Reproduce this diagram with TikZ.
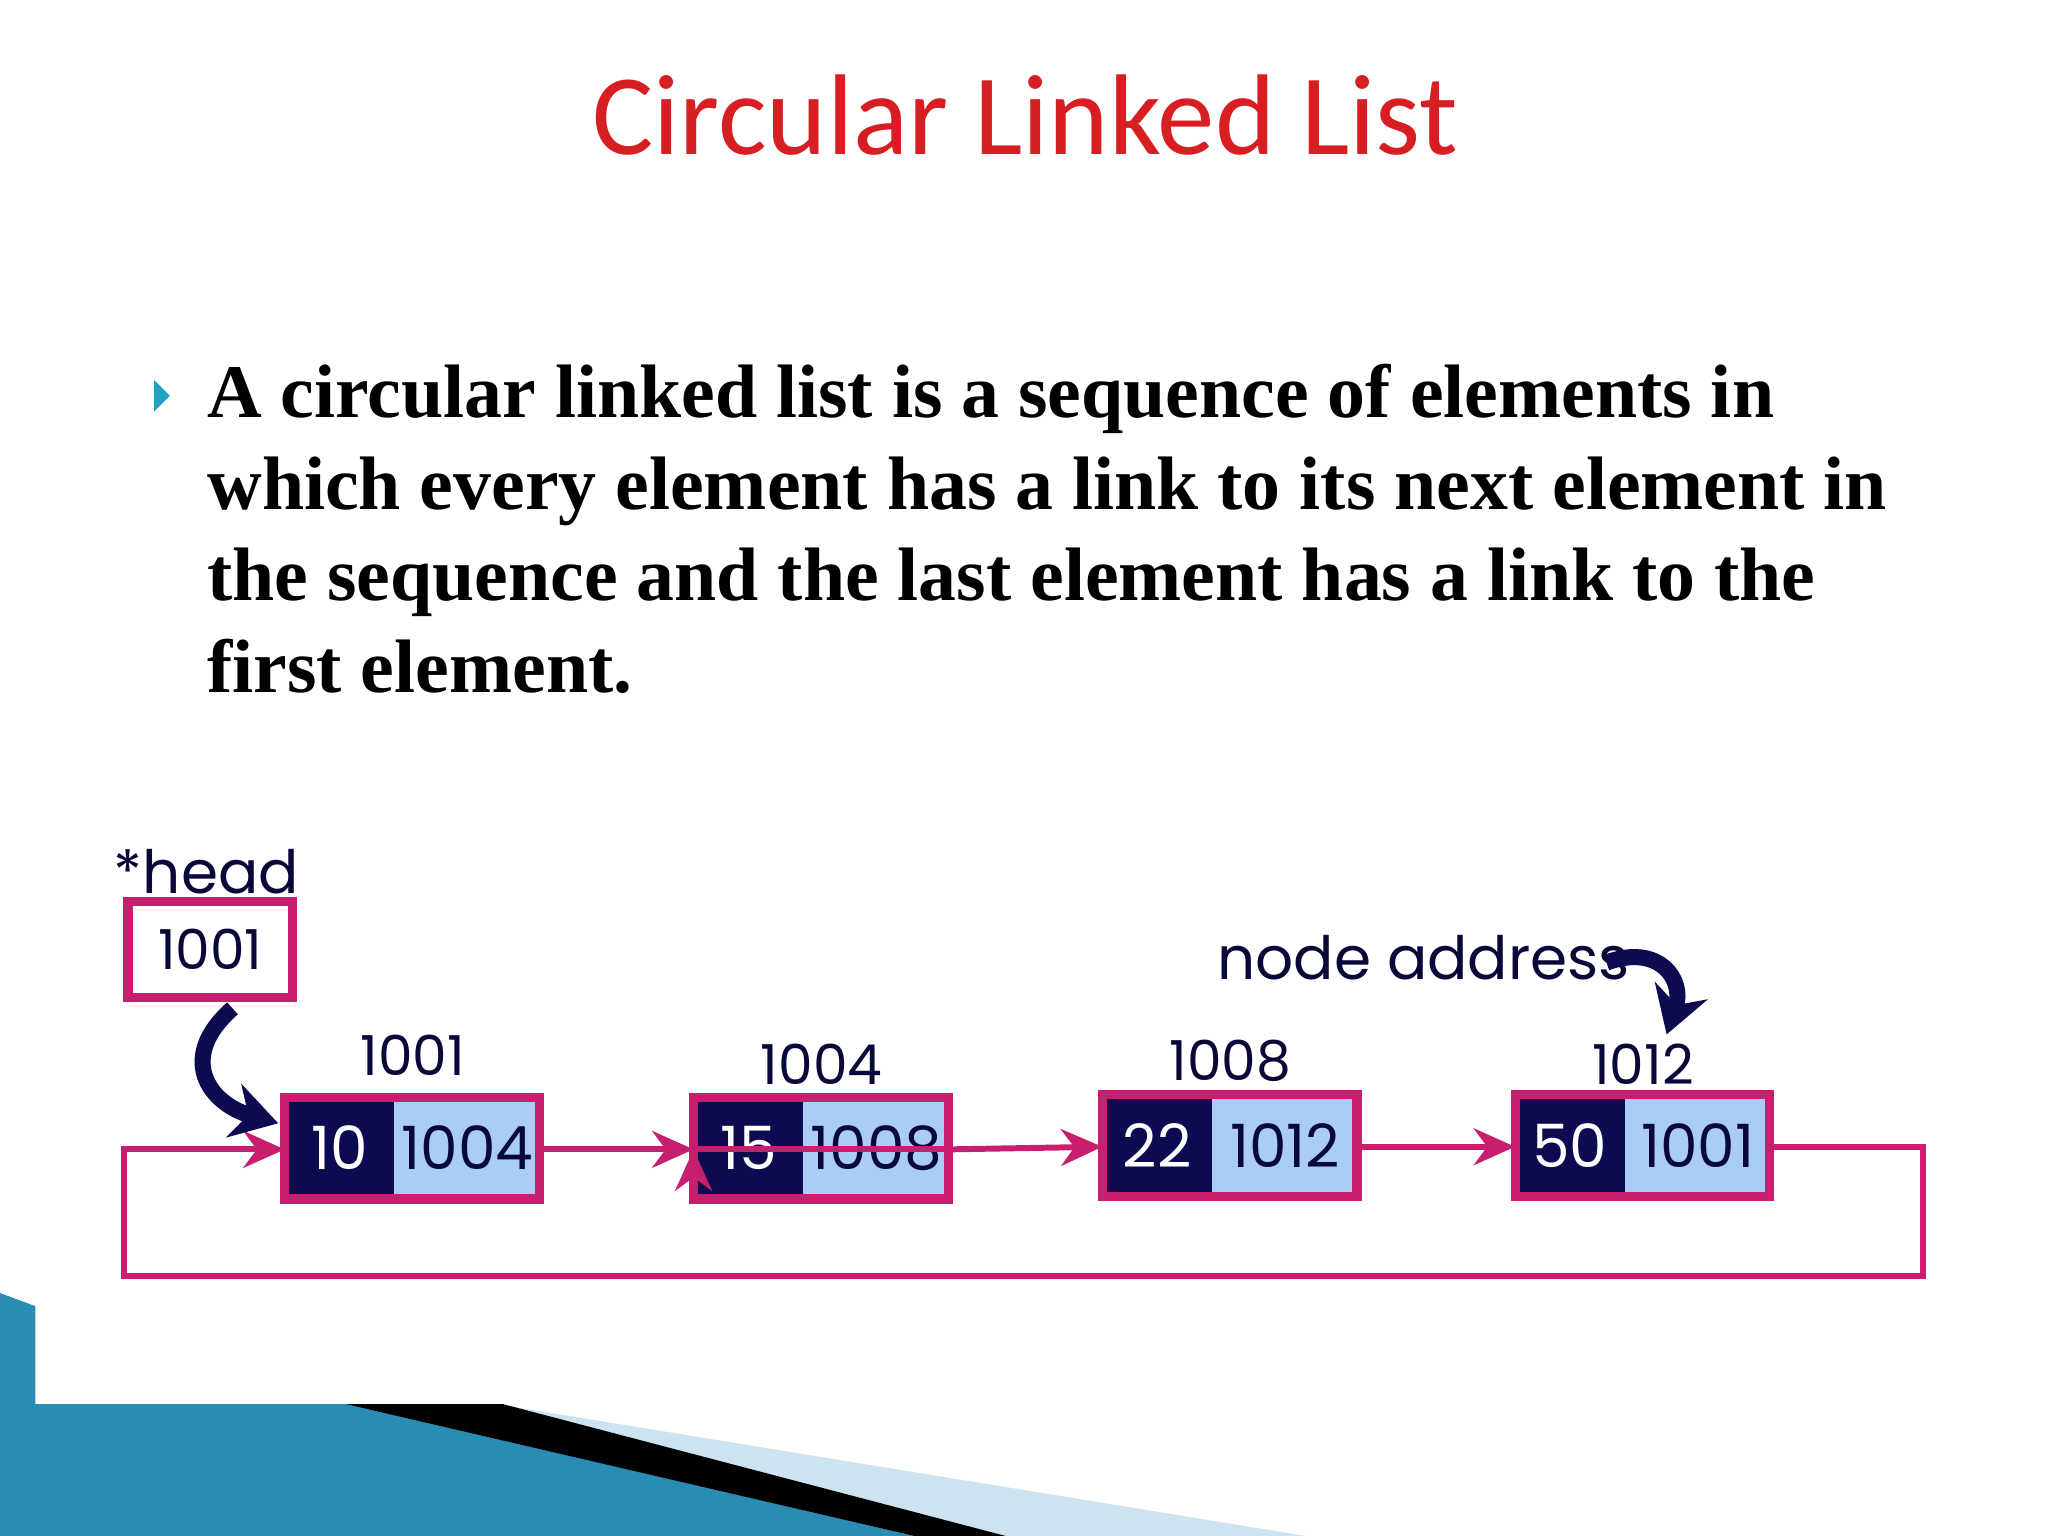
\documentclass[tikz,border=0pt]{standalone}
\usepackage{fontspec}
\setmainfont{Liberation Serif}
\newfontfamily\titlefont{Carlito}
\newfontfamily\diafont{Poppins}
\usetikzlibrary{arrows.meta}
\definecolor{mag}{RGB}{200,30,110}
\definecolor{navy}{RGB}{12,11,82}
\definecolor{lblue}{RGB}{170,205,245}
\definecolor{ttl}{RGB}{215,30,35}
\definecolor{teal1}{RGB}{40,140,180}
\definecolor{lteal}{RGB}{205,228,240}
\tikzset{
  para/.style={anchor=base west,inner sep=0pt,font=\fontsize{16.5}{20}\selectfont\bfseries},
  lbl/.style={font=\diafont\fontsize{12}{14}\selectfont,text=navy!70!black,inner sep=0pt},
  frame/.style={draw=mag,line width=2pt},
  link/.style={draw=mag,line width=1.3pt,-{Stealth[length=9pt,width=8pt]}},
  curv/.style={draw=navy,line width=3.5pt,-{Stealth[length=10pt,width=12pt]}},
}
\begin{document}
\begin{tikzpicture}[x=0.01cm,y=-0.01cm]
\useasboundingbox (0,0) rectangle (1568,1176);
\fill[white] (0,0) rectangle (1568,1176);
% decoration
\fill[teal1] (0,990)--(27,1000)--(27,1075)--(268,1075)--(700,1176)--(0,1176)--cycle;
\fill[lteal] (380,1075)--(1000,1176)--(760,1176)--cycle;
\fill[black] (265,1075)--(385,1075)--(770,1176)--(700,1176)--cycle;
% title
\node[font=\titlefont\fontsize{25}{28}\selectfont,text=ttl] (title) at (785,88) {Circular Linked List};
% bullet
\fill[teal1!80!cyan] (118,291)--(130,303)--(118,315)--cycle;
\node[para] (l1) at (158,320) {A circular linked list is a sequence of elements in};
\node[para] (l2) at (158,390) {which every element has a link to its next element in};
\node[para] (l3) at (158,460) {the sequence and the last element has a link to the};
\node[para] (l4) at (158,530) {first element.};
% head
\node[lbl,font=\diafont\fontsize{13}{15}\selectfont] (headl) at (158,667) {*head};
\node[frame,minimum width=1.26cm,minimum height=0.74cm,inner sep=0pt,lbl] (head) at (161,727) {1001};
% list nodes
\foreach \n/\x/\y/\v/\a/\addr/\ay in {1/218/840/10/1004/1001/808, 2/531/840/15/1008/1004/815, 3/844/838/22/1012/1008/812, 4/1160/838/50/1001/1012/815}{
  \fill[navy] (\x,\y) rectangle (\x+84,\y+78);
  \fill[lblue] (\x+84,\y) rectangle (\x+195,\y+78);
  \node[inner sep=0pt] (b\n) at (\x+97.5,\y+39) {\phantom{x}};
  \node[lbl,text=white,font=\diafont\fontsize{13}{15}\selectfont] (v\n) at (\x+42,\y+39) {\v};
  \node[lbl,font=\diafont\fontsize{13}{15}\selectfont] (p\n) at (\x+140,\y+39) {\a};
  \draw[mag,line width=2pt] (\x,\y) rectangle (\x+195,\y+78);
  \coordinate (w\n) at (\x,\y+40);
  \coordinate (e\n) at (\x+195,\y+40);
  \node[lbl] (ad\n) at (\x+98,\ay) {\addr};
}
\draw[link] (e1) -- (w2);
\draw[link] (e2) -- (w2 |- e2) ++(0,0);
\draw[link] (e2) -- (w3);
\draw[link] (e3) -- (w4);
\coordinate (c1) at (1472,878);
\coordinate (c2) at (1472,977);
\coordinate (c3) at (95,977);
\coordinate (c4) at (95,880);
\draw[link] (e4) -- (c1) -- (c2) -- (c3) -- (c4) -- (w1);
% curved arrows
\node[lbl,font=\diafont\fontsize{13}{15}\selectfont] (na) at (1090,733) {node address};
\draw[curv] (178,772) .. controls (135,810) and (160,845) .. (213,860);
\draw[curv] (1230,737) .. controls (1270,722) and (1290,750) .. (1276,792);
\end{tikzpicture}
\end{document}
